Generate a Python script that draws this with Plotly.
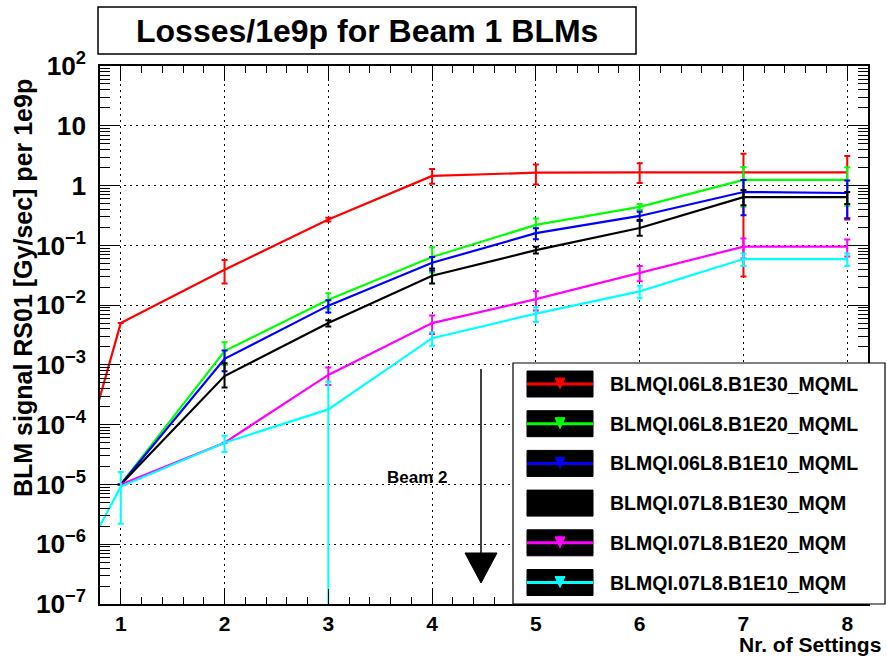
import plotly.graph_objects as go

# ---------------- data ----------------
settings = [0, 1, 2, 3, 4, 5, 6, 7, 8]

names = [
    "BLMQI.06L8.B1E30_MQML",
    "BLMQI.06L8.B1E20_MQML",
    "BLMQI.06L8.B1E10_MQML",
    "BLMQI.07L8.B1E30_MQM",
    "BLMQI.07L8.B1E20_MQM",
    "BLMQI.07L8.B1E10_MQM",
]
colors = ["#ff0000", "#00ff00", "#0000ff", "#000000", "#ff00ff", "#00ffff"]

red_vals = [3.5e-9, 5.0e-3, 0.039, 0.27, 1.45, 1.64, 1.66, 1.66, 1.66]
red_up = [0, 0, 0.018, 0.02, 0.45, 0.6, 0.7, 1.75, 1.45]
red_dn = [0, 0, 0.016, 0.02, 0.38, 0.6, 0.56, 1.63, 1.39]

green_vals = [None, 1.0e-5, 1.7e-3, 0.0123, 0.064, 0.22, 0.44, 1.24, 1.24]
green_up = [0, 0, 7e-4, 0.0035, 0.029, 0.06, 0.05, 0.8, 0.78]
green_dn = [0, 0, 7e-4, 0.0035, 0.029, 0.06, 0.05, 0.8, 0.78]

blue_vals = [None, 1.0e-5, 1.26e-3, 0.0098, 0.051, 0.16, 0.31, 0.78, 0.75]
blue_up = [0, 0, 4.8e-4, 2.3e-3, 0.013, 0.033, 0.055, 0.46, 0.465]
blue_dn = [0, 0, 4.8e-4, 2.3e-3, 0.013, 0.033, 0.055, 0.46, 0.465]

black_vals = [None, 1.0e-5, 6.5e-4, 5.0e-3, 0.031, 0.083, 0.195, 0.64, 0.64]
black_up = [0, 0, 4.2e-4, 6e-4, 0.01, 0.012, 0.07, 0.2, 0.14]
black_dn = [0, 0, 2.3e-4, 6e-4, 0.008, 0.01, 0.05, 0.17, 0.15]

magenta_vals = [None, 1.0e-5, 5.0e-5, 6.8e-4, 5.0e-3, 0.0126, 0.035, 0.095, 0.095]
magenta_up = [0, 0, 0, 2.2e-4, 1.7e-3, 0.0045, 0.01, 0.035, 0.03]
magenta_dn = [0, 0, 0, 2.2e-4, 1.7e-3, 0.0045, 0.01, 0.035, 0.03]

cyan_vals = [5e-9, 9.2e-6, 5.0e-5, 1.8e-4, 2.8e-3, 0.0072, 0.017, 0.059, 0.059]
cyan_up = [0, 7e-6, 1.5e-5, 3.4e-4, 7e-4, 0.002, 0.004, 0.014, 0.014]
cyan_dn = [0, 7e-6, 1.5e-5, 3.4e-4, 7e-4, 0.002, 0.004, 0.014, 0.014]

series = [
    (names[0], colors[0], red_vals, red_up, red_dn),
    (names[1], colors[1], green_vals, green_up, green_dn),
    (names[2], colors[2], blue_vals, blue_up, blue_dn),
    (names[3], colors[3], black_vals, black_up, black_dn),
    (names[4], colors[4], magenta_vals, magenta_up, magenta_dn),
    (names[5], colors[5], cyan_vals, cyan_up, cyan_dn),
]

title_text = "Losses/1e9p for Beam 1 BLMs"
y_title = "BLM signal RS01 [Gy/sec] per 1e9p"
x_title = "Nr. of Settings"
beam_label = "Beam 2"

FONT = "Liberation Sans, Arial, Helvetica, sans-serif"

# ---------------- figure ----------------
fig = go.Figure()
for name, color, vals, up, dn in series:
    fig.add_trace(go.Scatter(
        x=settings, y=vals, name=name, mode="lines",
        line=dict(color=color, width=2.2),
        error_y=dict(type="data", symmetric=False, array=up, arrayminus=dn,
                     color=color, thickness=2, width=3),
        connectgaps=False, showlegend=False,
    ))

L, R, T, B = 100, 868, 66, 604
W, H = 887, 663


def px(xp):
    return (xp - L) / (R - L)


def py(yp):
    return (B - yp) / (B - T)


shapes = []
annotations = []

# title box
shapes.append(dict(type="rect", xref="paper", yref="paper",
                   x0=px(98), x1=px(636), y0=py(54), y1=py(7),
                   line=dict(color="black", width=1.5), fillcolor="white"))
annotations.append(dict(text="<b>%s</b>" % title_text, xref="paper", yref="paper",
                        x=px(367), y=py(31), showarrow=False,
                        font=dict(size=32, family=FONT, color="black"),
                        xanchor="center", yanchor="middle"))

# y title
annotations.append(dict(text="<b>%s</b>" % y_title, xref="paper", yref="paper",
                        x=px(23), y=py(288), textangle=-90, showarrow=False,
                        font=dict(size=25, family=FONT, color="black"),
                        xanchor="center", yanchor="middle"))
# x title
annotations.append(dict(text="<b>%s</b>" % x_title, xref="paper", yref="paper",
                        x=px(883), y=py(644), showarrow=False,
                        font=dict(size=21, family=FONT, color="black"),
                        xanchor="right", yanchor="middle"))

# Beam 2 label and arrow
annotations.append(dict(text="<b>%s</b>" % beam_label, xref="paper", yref="paper",
                        x=px(417), y=py(477), showarrow=False,
                        font=dict(size=17, family=FONT, color="black"),
                        xanchor="center", yanchor="middle"))
ax_x = 481
shapes.append(dict(type="line", xref="paper", yref="paper",
                   x0=px(ax_x), x1=px(ax_x), y0=py(369), y1=py(556),
                   line=dict(color="black", width=1.5)))
shapes.append(dict(type="path", xref="paper", yref="paper",
                   path="M %.6f,%.6f L %.6f,%.6f L %.6f,%.6f Z" % (
                       px(ax_x - 16), py(553), px(ax_x + 16), py(553), px(ax_x), py(583)),
                   fillcolor="black", line=dict(color="black", width=1)))

# legend box
shapes.append(dict(type="rect", xref="paper", yref="paper", layer="above",
                   x0=px(513), x1=px(885), y0=py(604), y1=py(363),
                   line=dict(color="black", width=1.2), fillcolor="white"))
for i, (name, color) in enumerate(zip(names, colors)):
    cy = 384 + i * 39.7
    shapes.append(dict(type="rect", xref="paper", yref="paper", layer="above",
                       x0=px(527), x1=px(593), y0=py(cy + 13), y1=py(cy - 13),
                       line=dict(color="black", width=1), fillcolor="black"))
    shapes.append(dict(type="line", xref="paper", yref="paper", layer="above",
                       x0=px(527), x1=px(593), y0=py(cy), y1=py(cy),
                       line=dict(color=color, width=3)))
    shapes.append(dict(type="path", xref="paper", yref="paper", layer="above",
                       path="M %.6f,%.6f L %.6f,%.6f L %.6f,%.6f Z" % (
                           px(555), py(cy - 6), px(565), py(cy - 6), px(560), py(cy + 5)),
                       fillcolor=color, line=dict(color=color, width=1)))
    annotations.append(dict(text="<b>%s</b>" % name, xref="paper", yref="paper",
                            x=px(608), y=py(cy), showarrow=False,
                            font=dict(size=19.5, family=FONT, color="black"),
                            xanchor="left", yanchor="middle"))

fig.update_layout(
    width=W, height=H,
    margin=dict(l=L, r=W - R, t=T, b=H - B, pad=0),
    paper_bgcolor="white", plot_bgcolor="white",
    showlegend=False,
    font=dict(family=FONT, color="black"),
    shapes=shapes, annotations=annotations,
)

fig.update_xaxes(
    range=[0.8, 8.2], tickmode="linear", tick0=0, dtick=1,
    ticks="inside", ticklen=15, tickwidth=1, tickcolor="black",
    showline=True, linecolor="black", linewidth=1.5, mirror="allticks",
    showgrid=True, gridcolor="black", griddash="2px,4px", gridwidth=1,
    zeroline=False, ticklabelstandoff=0,
    tickfont=dict(size=21, family=FONT, color="black", weight="bold"),
    minor=dict(ticks="inside", ticklen=7, dtick=0.2, tick0=0, tickcolor="black",
               tickwidth=1, showgrid=False),
)
fig.update_yaxes(
    type="log", range=[-7, 2], tickmode="linear", tick0=0, dtick=1,
    exponentformat="power",
    ticks="inside", ticklen=20, tickwidth=1, tickcolor="black",
    showline=True, linecolor="black", linewidth=1.5, mirror="allticks",
    showgrid=True, gridcolor="black", griddash="2px,4px", gridwidth=1,
    zeroline=False, ticklabelstandoff=8,
    tickfont=dict(size=21, family=FONT, color="black", weight="bold"),
    minor=dict(ticks="inside", ticklen=10, dtick="D1", tickcolor="black",
               tickwidth=1, showgrid=False),
)

fig.write_html("out.html")
